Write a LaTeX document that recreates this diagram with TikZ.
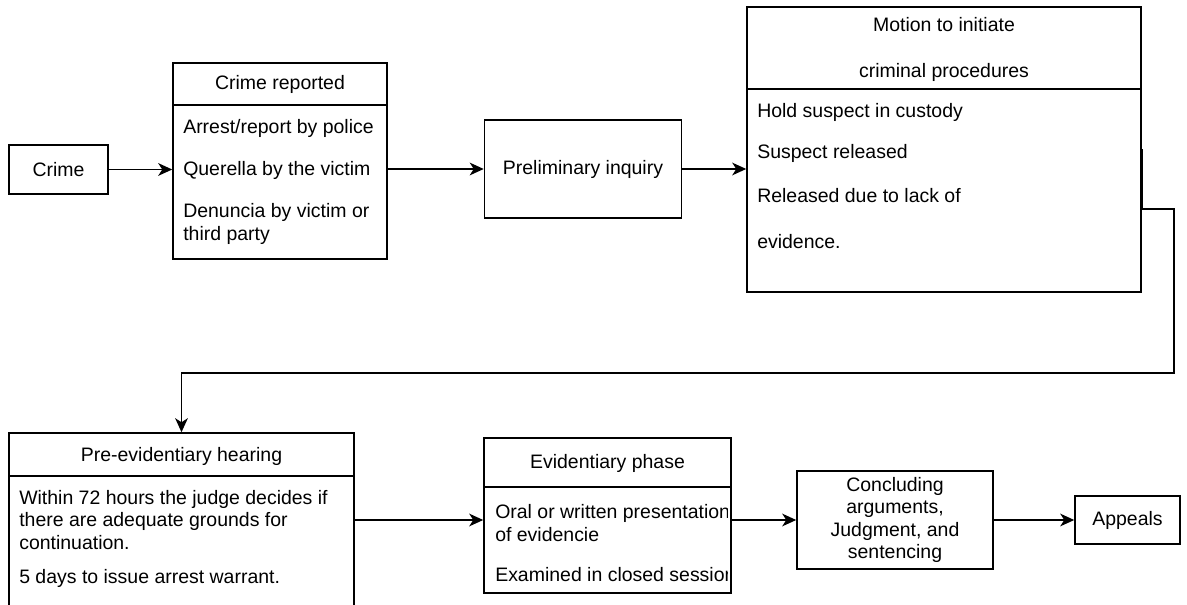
\documentclass[tikz,border=0pt]{standalone}
\usepackage{fontspec}
\setmainfont{Liberation Sans}
\usetikzlibrary{arrows.meta}
\tikzset{
  >={Stealth[length=10.5pt,width=9.5pt,inset=3pt]},
}
\tikzstyle{box}=[draw,line width=1.15pt,inner sep=0pt]
\tikzstyle{flow}=[line width=1.15pt,->]
\tikzstyle{rule}=[line width=1.15pt]
\tikzstyle{item}=[anchor=west,inner sep=0pt,align=left]
\tikzstyle{title}=[inner sep=0pt,align=center]
\tikzstyle{every node}=[font=\fontsize{14.6}{16.8}\selectfont]

\begin{document}
\begin{tikzpicture}[x=0.75pt,y=-0.75pt]
    \clip (0,0) rectangle (1187,605);
    \fill[white] (0,0) rectangle (1187,605);
    % boxes
    \node[box,minimum width=74.25pt,minimum height=36.75pt] (crime) at (58.5,169.5) {Crime};
    \node[box,minimum width=160.5pt,minimum height=147pt] (reported) at (280,161) {};
    \node[box,minimum width=147.75pt,minimum height=73.5pt] (prelim) at (583,169) {Preliminary inquiry};
    \node[box,minimum width=295.5pt,minimum height=213.75pt] (motion) at (944,149.5) {};
    \node[box,minimum width=258.75pt,minimum height=155.25pt] (prehear) at (181.5,536.5) {};
    \node[box,minimum width=185.25pt,minimum height=116.25pt] (evid) at (607.5,515.5) {};
    \node[box,minimum width=147pt,minimum height=73.5pt,align=center] (concl) at (895,520)
      {Concluding\\arguments,\\Judgment, and\\sentencing};
    \node[box,minimum width=78.75pt,minimum height=36pt] (appeals) at (1127.5,520) {Appeals};
    % header lines
    \draw[rule] (reported.west |- 0,105) -- (reported.east |- 0,105);
    \draw[rule] (motion.west |- 0,89) -- (motion.east |- 0,89);
    \draw[rule] (prehear.west |- 0,476) -- (prehear.east |- 0,476);
    \draw[rule] (evid.west |- 0,487) -- (evid.east |- 0,487);
    % texts
    \node[title] (reportedtitle) at (280,84) {Crime reported};
    \node[item] (police) at (183,128) {Arrest/report by police};
    \node[item] (querella) at (183,170) {Querella by the victim};
    \node[item] (denuncia) at (183,224) {Denuncia by victim or\\third party};
    \node[title] (motiontitle) at (944,25) {Motion to initiate};
    \node[title] (motionsub) at (944,72) {criminal procedures};
    \node[item] (custody) at (757,112) {Hold suspect in custody};
    \node[item] (released) at (757,153) {Suspect released};
    \node[item] (lack) at (757,196) {Released due to lack of};
    \node[item] (evidence) at (757,242) {evidence.};
    \node[title] (prehtitle) at (181.5,456) {Pre-evidentiary hearing};
    \node[item] (hours) at (19,520) {Within 72 hours the judge decides if\\there are adequate grounds for\\continuation.};
    \node[item] (warrant) at (19,578) {5 days to issue arrest warrant.};
    \node[title] (evidtitle) at (607.5,463) {Evidentiary phase};
    \begin{scope}
      \clip (484,488) rectangle (727,592);
      \node[item] (oral) at (495,523) {Oral or written presentation\\of evidencie};
      \node[item] (closed) at (495,575) {Examined in closed session};
    \end{scope}
    % connectors
    \coordinate (loop) at (1174,373);
    \draw[flow] (crime.east) -- (crime.east -| reported.west);
    \draw[flow] (prelim.west -| reported.east) -- (prelim.west);
    \draw[flow] (prelim.east) -- (prelim.east -| motion.west);
    \draw[flow] (motion.east) -- ++(0,59.5) -| (loop) -| (prehear.north);
    \draw[flow] (prehear.east |- concl.west) -- (evid.west |- concl.west);
    \draw[flow] (concl.west -| evid.east) -- (concl.west);
    \draw[flow] (concl.east) -- (appeals.west);
\end{tikzpicture}
\end{document}
